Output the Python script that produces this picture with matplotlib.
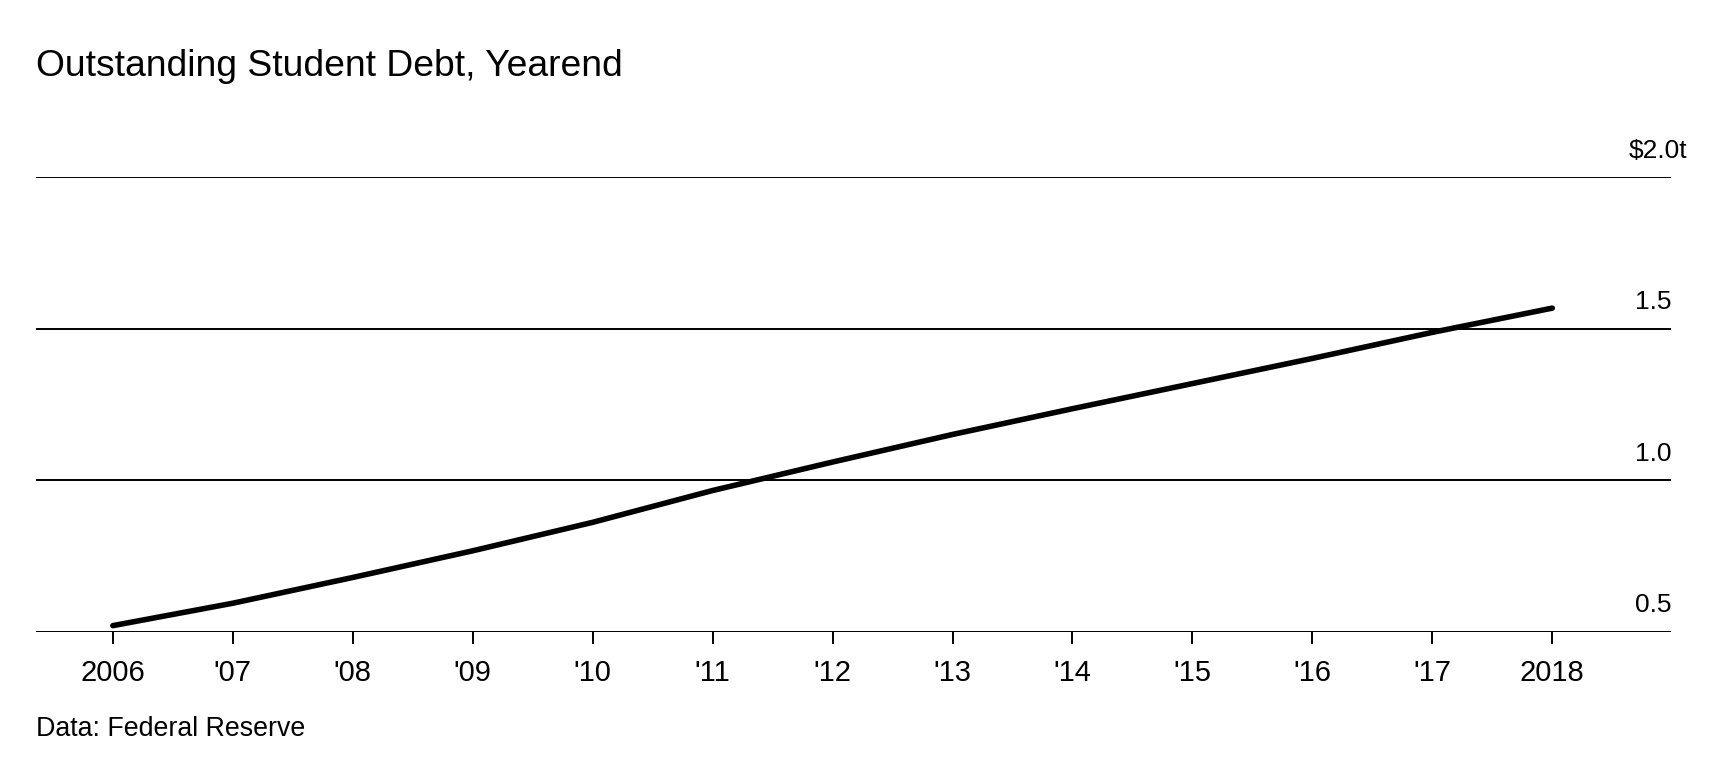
import matplotlib
matplotlib.use("Agg")
import matplotlib.pyplot as plt

# Outstanding student debt at year end, $ trillions
years = [2006, 2007, 2008, 2009, 2010, 2011, 2012, 2013, 2014, 2015, 2016, 2017, 2018]
debt = [0.520, 0.594, 0.679, 0.767, 0.861, 0.966, 1.060, 1.151, 1.236, 1.319, 1.402, 1.488, 1.568]
xtick_labels = ["2006", "'07", "'08", "'09", "'10", "'11", "'12", "'13", "'14", "'15", "'16", "'17", "2018"]
yticks = [0.5, 1.0, 1.5, 2.0]
ytick_labels = ["0.5", "1.0", "1.5", "$2.0t"]

plt.rcParams["font.family"] = ["Liberation Sans", "DejaVu Sans"]

fig = plt.figure(figsize=(17.16, 7.6), dpi=100)
ax = fig.add_axes([0.021, 0.1688, 0.9528, 0.598])

ax.plot(years, debt, color="black", lw=4.0, solid_capstyle="round", solid_joinstyle="round", zorder=3)

# horizontal grid lines
for v in yticks:
    ax.axhline(v, color="black", lw=1.4, zorder=1)

ax.set_xlim(2005.36, 2018.99)
ax.set_ylim(0.5, 2.0)

for s in ["top", "right", "left", "bottom"]:
    ax.spines[s].set_visible(False)

ax.set_yticks([])
ax.set_xticks(years)
ax.set_xticklabels(xtick_labels)
ax.tick_params(axis="x", length=8.5, width=1.4, color="black", pad=11, labelsize=21)

# y labels sit above the gridlines at the right edge; the unit hangs past the edge
for v, lab in zip(yticks, ytick_labels):
    dx = 12 if lab.endswith("t") else 0
    ax.annotate(lab, xy=(1.0, v), xycoords=("axes fraction", "data"),
                xytext=(dx, 14), textcoords="offset points",
                ha="right", va="baseline", fontsize=19)

fig.text(0.021, 0.912, "Outstanding Student Debt, Yearend", fontsize=26.8, ha="left", va="center")
fig.text(0.021, 0.041, "Data: Federal Reserve", fontsize=19.3, ha="left", va="center")

fig.savefig("out.png", dpi=100, facecolor="white")
